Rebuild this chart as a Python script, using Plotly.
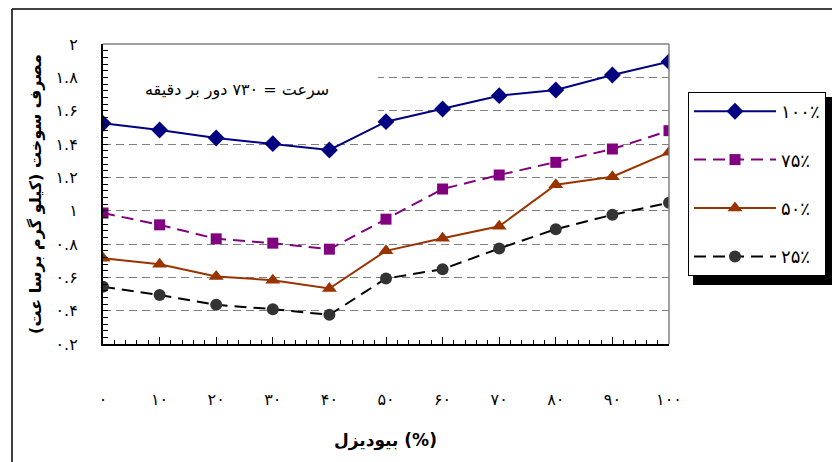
import plotly.graph_objects as go

# ---- data ----
biodiesel = [0, 10, 20, 30, 40, 50, 60, 70, 80, 90, 100]
load_100 = [1.524, 1.484, 1.436, 1.402, 1.364, 1.534, 1.610, 1.690, 1.724, 1.814, 1.894]
load_75 = [0.986, 0.915, 0.831, 0.805, 0.769, 0.949, 1.130, 1.214, 1.290, 1.370, 1.480]
load_50 = [0.715, 0.679, 0.605, 0.583, 0.533, 0.759, 0.834, 0.906, 1.156, 1.204, 1.350]
load_25 = [0.543, 0.494, 0.435, 0.409, 0.375, 0.593, 0.649, 0.773, 0.889, 0.975, 1.047]
series_names = ["۱۰۰٪", "۷۵٪", "۵۰٪", "۲۵٪"]
y_tick_vals = [0.2, 0.4, 0.6, 0.8, 1.0, 1.2, 1.4, 1.6, 1.8, 2.0]
y_tick_text = ["۰.۲", "۰.۴", "۰.۶", "۰.۸", "۱", "۱.۲", "۱.۴", "۱.۶", "۱.۸", "۲"]
x_tick_text = ["۰", "۱۰", "۲۰", "۳۰", "۴۰", "۵۰", "۶۰", "۷۰", "۸۰", "۹۰", "۱۰۰"]
y_title = "مصرف سوخت (کیلو گرم برسا عت)\u200F"
x_title = "\u200Eبیودیزل (%)"
note_text = "سرعت = ۷۳۰ دور بر دقیقه"

FONT = "DejaVu Sans"

# page body has an 8px margin; the figure is sized/offset to compensate
OFF = 8
W, H = 840 - OFF, 462 - OFF
L = 103 - OFF
T = 44 - OFF
R = W - (669 - OFF)
B = H - (344 - OFF)
PW, PH = W - L - R, H - T - B


def px_x(p):
    return (p - OFF - L) / PW


def px_y(p):
    return (H - B - (p - OFF)) / PH


fig = go.Figure()

styles = [
    (load_100, "#000080", "solid", "diamond", 13),
    (load_75, "#800080", "dash", "square", 11),
    (load_50, "#993300", "solid", "triangle-up", 13),
    (load_25, "#333333", "dash", "circle", 12),
]
line_cols = ["#000080", "#800080", "#993300", "#000000"]
for i, (vals, col, dash, sym, size) in enumerate(styles):
    fig.add_trace(go.Scatter(
        x=biodiesel, y=vals, name=series_names[i], mode="lines+markers",
        line=dict(color=line_cols[i], width=2, dash="12px,7px" if dash == "dash" else "solid"),
        marker=dict(symbol=sym, size=size, color=col, line=dict(width=0)),
        legendgroup=f"g{i}",
    ))

# white box behind annotation (above gridlines, below traces)
fig.add_shape(type="rect", xref="x", yref="y", x0=0.3, x1=48.6, y0=1.5, y1=1.97,
              fillcolor="white", line=dict(width=0), layer="between")

# plot border top/right (gray)
fig.add_shape(type="line", xref="paper", yref="paper", x0=0, x1=1, y0=1, y1=1,
              line=dict(color="#808080", width=1.5))
fig.add_shape(type="line", xref="paper", yref="paper", x0=1, x1=1, y0=0, y1=1,
              line=dict(color="#808080", width=1.5))

# outer chart border (left and top)
fig.add_shape(type="line", xref="paper", yref="paper", x0=px_x(12), x1=px_x(12),
              y0=px_y(9), y1=px_y(470), line=dict(color="black", width=1.5))
fig.add_shape(type="line", xref="paper", yref="paper", x0=px_x(12), x1=px_x(850),
              y0=px_y(9), y1=px_y(9), line=dict(color="black", width=1.5))

# legend shadow
fig.add_shape(type="rect", xref="paper", yref="paper", x0=px_x(693), x1=px_x(833),
              y0=px_y(285), y1=px_y(97), fillcolor="black", line=dict(width=0))

fig.add_annotation(x=px_x(237), y=px_y(90), xref="paper", yref="paper",
                   xanchor="center", yanchor="middle",
                   text=note_text, showarrow=False,
                   font=dict(family=FONT, size=16, color="black"))

fig.add_annotation(x=px_x(385), y=px_y(440), xref="paper", yref="paper",
                   xanchor="center", yanchor="middle",
                   text=f"<b>{x_title}</b>", showarrow=False,
                   font=dict(family=FONT, size=17, color="black"))

fig.update_layout(
    width=W, height=H, autosize=False,
    margin=dict(l=L, r=R, t=T, b=B, autoexpand=False),
    paper_bgcolor="white", plot_bgcolor="white",
    font=dict(family=FONT, color="black"),
    showlegend=True,
    legend=dict(
        x=px_x(688), y=px_y(92), xanchor="left", yanchor="top",
        bgcolor="white", bordercolor="black", borderwidth=1,
        font=dict(family=FONT, size=18, color="black"),
        itemwidth=82, tracegroupgap=22, traceorder="grouped",
    ),
    xaxis=dict(
        range=[0, 100], tickmode="array", tickvals=biodiesel, ticktext=x_tick_text,
        showgrid=False, zeroline=False, automargin=False,
        showline=True, linecolor="black", linewidth=2,
        ticks="inside", ticklen=7, tickcolor="black", tickwidth=1,
        minor=dict(dtick=2, ticks="inside", ticklen=4, tickcolor="black", showgrid=False),
        ticklabelstandoff=40,
        tickfont=dict(family=FONT, size=16, color="black"),
    ),
    yaxis=dict(
        range=[0.2, 2.0], tickmode="array", tickvals=y_tick_vals, ticktext=y_tick_text,
        showgrid=True, gridcolor="#808080", gridwidth=1.2, griddash="8px,5px",
        zeroline=False, automargin=False,
        showline=True, linecolor="black", linewidth=2,
        ticks="inside", ticklen=5, tickcolor="black", tickwidth=1,
        minor=dict(dtick=0.04, tick0=0.2, ticks="inside", ticklen=5, tickcolor="black", showgrid=False),
        ticklabelstandoff=20,
        tickfont=dict(family=FONT, size=16, color="black"),
        title=dict(text=f"<b>{y_title}</b>", font=dict(family=FONT, size=16, color="black"), standoff=10),
    ),
)

fig.write_html("out.html")
